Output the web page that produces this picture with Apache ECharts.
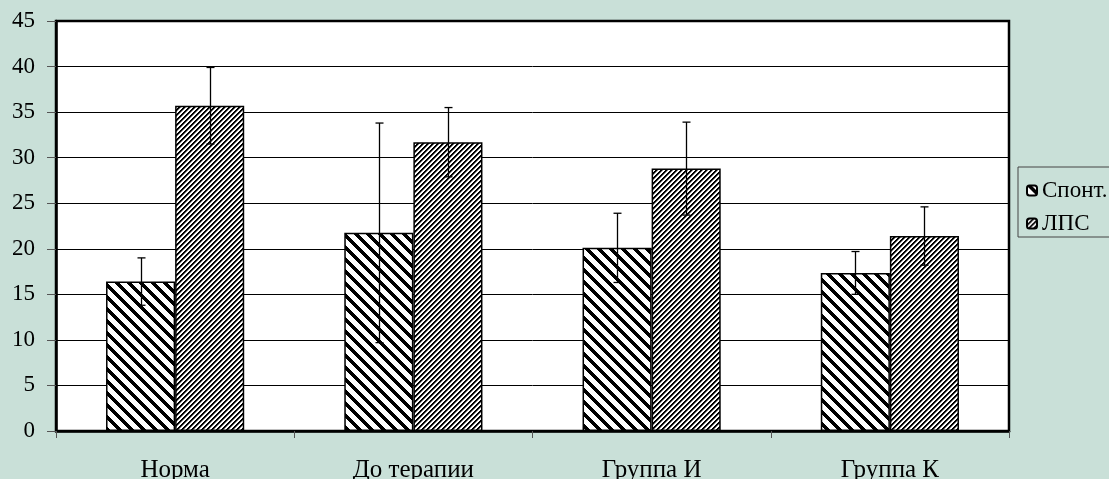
<!DOCTYPE html>
<html>
<head>
<meta charset="utf-8">
<script src="https://cdn.jsdelivr.net/npm/echarts@6/dist/echarts.min.js"></script>
<style>
html,body{margin:0;padding:0;background:#c9e0d8;}
#chart{width:1109px;height:479px;}
</style>
</head>
<body>
<div id="chart"></div>
<script>
const categories = ['Норма', 'До терапии', 'Группа И', 'Группа К'];
const seriesNames = ['Спонт.', 'ЛПС'];
const spontValues = [16.4, 21.75, 20.1, 17.35];
const lpsValues = [35.7, 31.7, 28.8, 21.4];
const spontErrors = [2.6, 12.05, 3.8, 2.35];
const lpsErrors = [4.2, 3.8, 5.1, 3.2];

function makePattern(period, lineW, dir) {
  const c = document.createElement('canvas');
  c.width = period; c.height = period;
  const ctx = c.getContext('2d');
  const img = ctx.createImageData(period, period);
  for (let y = 0; y < period; y++) {
    for (let x = 0; x < period; x++) {
      let m = dir === 'back' ? ((x - y) % period + period) % period : (x + y) % period;
      let v = 255;
      if (m < Math.floor(lineW)) v = 0;
      else if (m < lineW) v = 128;
      const i = (y * period + x) * 4;
      img.data[i] = v; img.data[i+1] = v; img.data[i+2] = v; img.data[i+3] = 255;
    }
  }
  ctx.putImageData(img, 0, 0);
  return c;
}
const spontPattern = { image: makePattern(12, 5, 'back'), repeat: 'repeat' };
const lpsPattern = { image: makePattern(5, 2.5, 'fwd'), repeat: 'repeat' };

const font = 'Liberation Serif';

function errorSeries(name, values, errors, side) {
  return {
    type: 'custom',
    name: name + '_err',
    z: 10,
    silent: true,
    data: values.map((v, i) => [i, v, errors[i]]),
    renderItem: function (params, api) {
      const idx = api.value(0);
      const band = api.size([1, 0])[0];
      const off = side * 0.145 * band;
      const top = api.coord([idx, api.value(1) + api.value(2)]);
      const bot = api.coord([idx, api.value(1) - api.value(2)]);
      const x = Math.round(top[0] + off) + 0.5;
      const cap = 4;
      const st = { stroke: '#000', lineWidth: 1.3 };
      return {
        type: 'group',
        children: [
          { type: 'line', shape: { x1: x, y1: top[1], x2: x, y2: bot[1] }, style: st },
          { type: 'line', shape: { x1: x - cap, y1: top[1], x2: x + cap, y2: top[1] }, style: st },
          { type: 'line', shape: { x1: x - cap, y1: bot[1], x2: x + cap, y2: bot[1] }, style: st }
        ]
      };
    }
  };
}

const chart = echarts.init(document.getElementById('chart'));
chart.setOption({
  backgroundColor: '#c9e0d8',
  animation: false,
  grid: {
    left: 56, right: 100, top: 21, bottom: 48,
    outerBoundsMode: 'none', containLabel: false,
    show: true, backgroundColor: '#fff', borderColor: '#000', borderWidth: 2.5
  },
  legend: {
    orient: 'vertical',
    left: 1018, top: 167,
    data: seriesNames,
    itemWidth: 10, itemHeight: 10, itemGap: 10, itemTextGap: 3,
    padding: [12, 2, 2, 8],
    borderColor: '#444', borderWidth: 1,
    backgroundColor: '#c9e0d8',
    textStyle: { fontFamily: font, fontSize: 23, color: '#000', lineHeight: 23 }
  },
  xAxis: {
    type: 'category',
    data: categories,
    axisLine: { lineStyle: { color: '#000', width: 2.5 } },
    axisTick: { show: true, length: 7, lineStyle: { color: '#555' } },
    axisLabel: { fontFamily: font, fontSize: 25, color: '#000', margin: 27 },
    splitLine: { show: false }
  },
  yAxis: {
    type: 'value',
    min: 0, max: 45, interval: 5,
    axisLine: { show: true, lineStyle: { color: '#000', width: 2.5 } },
    axisTick: { show: true, length: 9, lineStyle: { color: '#555' } },
    axisLabel: { fontFamily: font, fontSize: 23, color: '#000', margin: 21 },
    splitLine: { show: true, lineStyle: { color: '#000', width: 1 } }
  },
  series: [
    {
      type: 'bar', name: seriesNames[0], data: spontValues,
      barGap: '0%', barCategoryGap: '42%',
      itemStyle: { color: spontPattern, borderColor: '#000', borderWidth: 1.5 }
    },
    {
      type: 'bar', name: seriesNames[1], data: lpsValues,
      barGap: '0%', barCategoryGap: '42%',
      itemStyle: { color: lpsPattern, borderColor: '#000', borderWidth: 1.5 }
    },
    errorSeries(seriesNames[0], spontValues, spontErrors, -1),
    errorSeries(seriesNames[1], lpsValues, lpsErrors, 1)
  ]
});
</script>
</body>
</html>
